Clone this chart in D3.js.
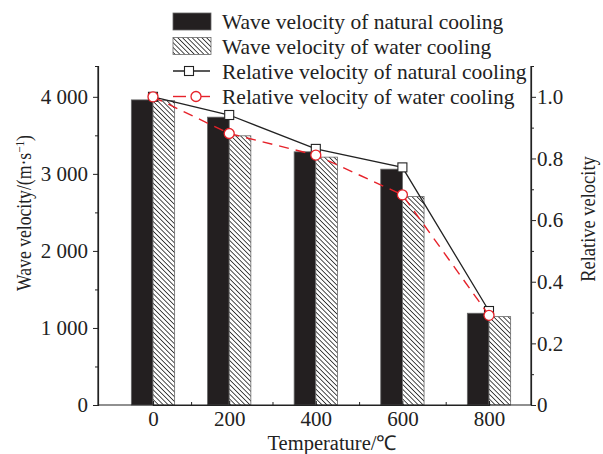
<!DOCTYPE html>
<html>
<head>
<meta charset="utf-8">
<script src="https://cdn.jsdelivr.net/npm/d3@7"></script>
<style>
  html, body { margin: 0; padding: 0; background: #fff; }
  svg { display: block; font-family: "Liberation Serif", "Times New Roman", serif; }
</style>
</head>
<body>
<svg id="chart" width="603" height="454"></svg>
<script>
// Temperatures (°C) at which the specimens were tested
const temperatures = [0, 200, 400, 600, 800];
// Wave velocity (m/s)
const naturalVelocity = [3960, 3736, 3286, 3061, 1191];
const waterVelocity = [3950, 3494, 3217, 2705, 1147];
// Relative velocity (v / v0)
const naturalRelative = [1.0, 0.941, 0.831, 0.771, 0.305];
const waterRelative = [1.0, 0.881, 0.811, 0.682, 0.291];
// Axis ticks
const leftTicks = [0, 1000, 2000, 3000, 4000];
const leftMinor = [500, 1500, 2500, 3500];
const rightTicks = [0, 0.2, 0.4, 0.6, 0.8, 1.0];
const rightMinor = [0.1, 0.3, 0.5, 0.7, 0.9];
const legendLabels = [
  "Wave velocity of natural cooling",
  "Wave velocity of water cooling",
  "Relative velocity of natural cooling",
  "Relative velocity of water cooling"
];

const W = 603, H = 454;
const margin = { top: 66, right: 72, bottom: 49, left: 98 };
const iw = W - margin.left - margin.right;
const ih = H - margin.top - margin.bottom;
const red = "#e6222a";

const svg = d3.select("#chart");
const defs = svg.append("defs");
const pat = defs.append("pattern")
  .attr("id", "hatch")
  .attr("patternUnits", "userSpaceOnUse")
  .attr("width", 3.4).attr("height", 3.4)
  .attr("patternTransform", "rotate(-45)");
pat.append("rect").attr("width", 3.4).attr("height", 3.4).attr("fill", "#fff");
pat.append("line").attr("x1", 0).attr("y1", 0).attr("x2", 0).attr("y2", 3.4)
  .attr("stroke", "#111").attr("stroke-width", 1.5);

const g = svg.append("g").attr("transform", `translate(${margin.left},${margin.top})`);

// Temperature positions along the axis (piecewise linear)
const x = d3.scaleLinear()
  .domain([0, 200, 800])
  .range([iw * 0.127, iw * 0.303, iw * 0.903]);
const barW = iw * 0.05;

const yL = d3.scaleLinear().domain([0, 4400]).range([ih, 0]);
const yR = d3.scaleLinear().domain([0, 1.1]).range([ih, 0]);

// Bars
g.selectAll(".barN").data(temperatures).join("rect")
  .attr("x", d => x(d) - barW)
  .attr("y", (d, i) => yL(naturalVelocity[i]))
  .attr("width", barW)
  .attr("height", (d, i) => ih - yL(naturalVelocity[i]))
  .attr("fill", "#231f20").attr("stroke", "#666").attr("stroke-width", 0.8);

g.selectAll(".barW").data(temperatures).join("rect")
  .attr("x", d => x(d))
  .attr("y", (d, i) => yL(waterVelocity[i]))
  .attr("width", barW)
  .attr("height", (d, i) => ih - yL(waterVelocity[i]))
  .attr("fill", "url(#hatch)").attr("stroke", "#666").attr("stroke-width", 0.8);

// Axes
const fmtL = v => d3.format(",")(v).replace(",", " ");
const fmtR = v => v === 0 ? "0" : d3.format(".1f")(v);

const axL = g.append("g").call(d3.axisLeft(yL).tickValues(leftTicks).tickFormat(fmtL).tickSize(5).tickPadding(5));
g.append("g").call(d3.axisLeft(yL).tickValues(leftMinor).tickFormat("").tickSize(3));
const axR = g.append("g").attr("transform", `translate(${iw},0)`)
  .call(d3.axisRight(yR).tickValues(rightTicks).tickFormat(fmtR).tickSize(5).tickPadding(1));
g.append("g").attr("transform", `translate(${iw},0)`)
  .call(d3.axisRight(yR).tickValues(rightMinor).tickFormat("").tickSize(3));
const axB = g.append("g").attr("transform", `translate(0,${ih})`)
  .call(d3.axisBottom(x).tickValues(temperatures).tickSize(-4).tickPadding(6));
const mids = d3.pairs(temperatures).map(([a, b]) => (a + b) / 2);
g.append("g").attr("transform", `translate(0,${ih})`)
  .call(d3.axisBottom(x).tickValues(mids).tickFormat("").tickSize(-3));

g.selectAll(".domain").attr("stroke", "#222").attr("stroke-width", 1.2);
g.selectAll(".tick line").attr("stroke", "#222").attr("stroke-width", 1);
g.selectAll(".tick text").attr("font-size", 21).attr("fill", "#222")
  .attr("font-family", "Liberation Serif, serif");
axB.select(".domain").attr("d", `M0,0H${iw}`);
axL.select(".domain").attr("d", `M0,0V${ih}`);
axR.select(".domain").attr("d", `M0,0V${ih}`);

// Relative velocity lines
const lineN = d3.line().x((d, i) => x(temperatures[i])).y(d => yR(d));
g.append("path").datum(naturalRelative).attr("d", lineN)
  .attr("fill", "none").attr("stroke", "#222").attr("stroke-width", 1.3);
g.selectAll(".sqN").data(naturalRelative).join("rect")
  .attr("x", (d, i) => x(temperatures[i]) - 4.5)
  .attr("y", d => yR(d) - 4.5)
  .attr("width", 9).attr("height", 9)
  .attr("fill", "#fff").attr("stroke", "#222").attr("stroke-width", 1.1);

g.append("path").datum(waterRelative).attr("d", lineN)
  .attr("fill", "none").attr("stroke", red).attr("stroke-width", 1.4)
  .attr("stroke-dasharray", "10,7");
g.selectAll(".cW").data(waterRelative).join("circle")
  .attr("cx", (d, i) => x(temperatures[i]))
  .attr("cy", d => yR(d))
  .attr("r", 5)
  .attr("fill", "#fff").attr("stroke", red).attr("stroke-width", 1.3);

// Axis titles (rotated, slightly condensed along their length)
svg.append("text")
  .attr("transform", `translate(31,213) rotate(-90) scale(0.86,1)`)
  .attr("text-anchor", "middle").attr("font-size", 20.5).attr("fill", "#222")
  .call(t => {
    t.append("tspan").text("Wave velocity/(m·s");
    t.append("tspan").attr("dy", -7).attr("font-size", 13).text("\u22121");
    t.append("tspan").attr("dy", 7).text(")");
  });
svg.append("text")
  .attr("transform", `translate(595,219) rotate(-90) scale(0.9,1)`)
  .attr("text-anchor", "middle").attr("font-size", 20.5).attr("fill", "#222")
  .text("Relative velocity");
svg.append("text")
  .attr("x", 332).attr("y", 450)
  .attr("text-anchor", "middle").attr("font-size", 20.5).attr("fill", "#222")
  .text("Temperature/\u2103");

// Legend
const lx = 173, lw = 38, tx = 222;
const rows = [21.5, 46, 71, 96.5];
const leg = svg.append("g");
leg.append("rect").attr("x", lx).attr("y", rows[0] - 8.5).attr("width", lw).attr("height", 17)
  .attr("fill", "#231f20").attr("stroke", "#666").attr("stroke-width", 0.8);
leg.append("rect").attr("x", lx).attr("y", rows[1] - 8.5).attr("width", lw).attr("height", 17)
  .attr("fill", "url(#hatch)").attr("stroke", "#666").attr("stroke-width", 0.8);
leg.append("line").attr("x1", lx).attr("x2", lx + lw - 1).attr("y1", rows[2]).attr("y2", rows[2])
  .attr("stroke", "#222").attr("stroke-width", 1.3);
leg.append("rect").attr("x", lx + 16 - 4.5).attr("y", rows[2] - 4.5).attr("width", 9).attr("height", 9)
  .attr("fill", "#fff").attr("stroke", "#222").attr("stroke-width", 1.1);
leg.append("line").attr("x1", lx).attr("x2", lx + 13).attr("y1", rows[3]).attr("y2", rows[3])
  .attr("stroke", red).attr("stroke-width", 1.4);
leg.append("line").attr("x1", lx + 28).attr("x2", lx + 37).attr("y1", rows[3]).attr("y2", rows[3])
  .attr("stroke", red).attr("stroke-width", 1.4);
leg.append("circle").attr("cx", lx + 23).attr("cy", rows[3]).attr("r", 5)
  .attr("fill", "#fff").attr("stroke", red).attr("stroke-width", 1.3);
leg.selectAll(".lt").data(legendLabels).join("text")
  .attr("x", tx).attr("y", (d, i) => rows[i])
  .attr("dy", "0.35em").attr("font-size", 21.5).attr("fill", "#222")
  .text(d => d);
</script>
</body>
</html>
